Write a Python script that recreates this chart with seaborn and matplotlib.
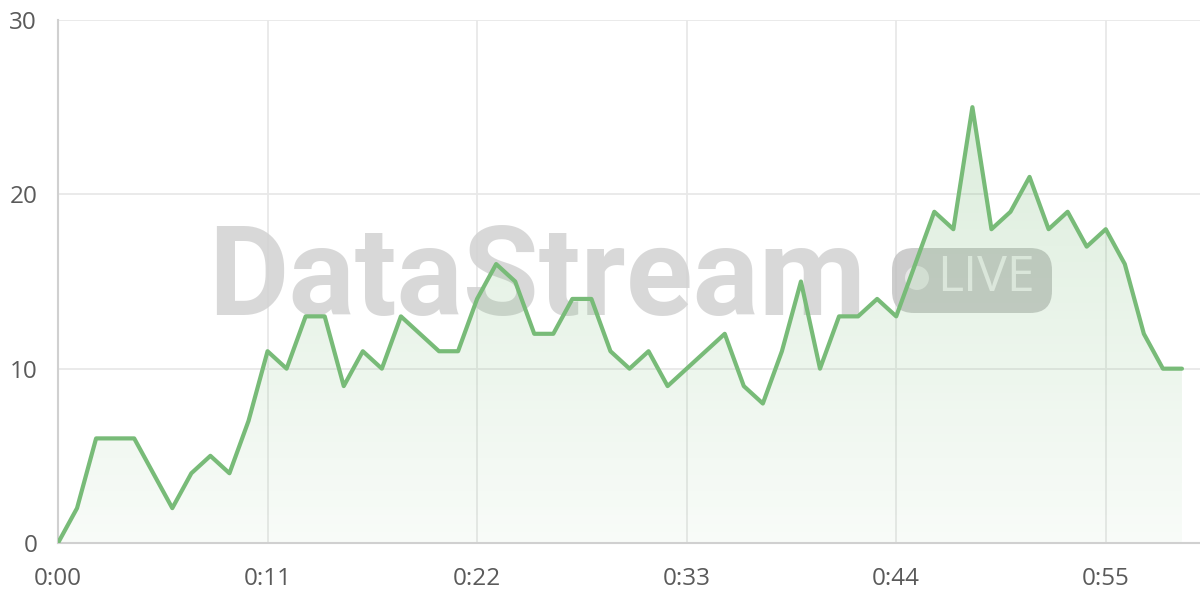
import numpy as np
import pandas as pd
import matplotlib.pyplot as plt
import seaborn as sns
from matplotlib.patches import FancyBboxPatch, Circle

# -----------------------------
# Data (one reading per second)
# -----------------------------
seconds = list(range(60))
values = [0, 2, 6, 6, 6, 4, 2, 4, 5, 4,
          7, 11, 10, 13, 13, 9, 11, 10, 13, 12,
          11, 11, 14, 16, 15, 12, 12, 14, 14, 11,
          10, 11, 9, 10, 11, 12, 9, 8, 11, 15,
          10, 13, 13, 14, 13, 16, 19, 18, 25, 18,
          19, 21, 18, 19, 17, 18, 16, 12, 10, 10]
x_ticks = [0, 11, 22, 33, 44, 55]
x_tick_labels = ["0:00", "0:11", "0:22", "0:33", "0:44", "0:55"]
y_ticks = [0, 10, 20, 30]

line_color = "#78bb78"
grid_color = "#e8e8e8"
label_color = "#5a5a5a"

sns.set_theme(style="white")
plt.rcParams["font.family"] = ["Open Sans", "DejaVu Sans"]

df = pd.DataFrame({"t": seconds, "v": values})

fig = plt.figure(figsize=(12, 6), dpi=100)
ax = fig.add_axes([58 / 1200, 57 / 600, 1143 / 1200, 523 / 600])

# gradient fill under the line
fill = ax.fill_between(df["t"], df["v"], 0, color="none", lw=0)
alpha = np.linspace(0.30, 0.05, 256)
grad = np.zeros((256, 1, 4))
grad[:, 0, :3] = (0.47, 0.73, 0.47)
grad[:, 0, 3] = alpha
img = ax.imshow(grad, extent=[0, 59, 0, 30], aspect="auto", zorder=2,
                interpolation="bilinear")
img.set_clip_path(fill.get_paths()[0], transform=ax.transData)

sns.lineplot(data=df, x="t", y="v", color=line_color, lw=3, ax=ax, zorder=4)

# watermark
wm = fig.dpi_scale_trans
ax.text(2.08, 2.85, "DataStream", transform=wm, fontsize=89, fontweight="bold",
        family=["Roboto", "DejaVu Sans"],
        color="#d2d2d2", alpha=0.85, ha="left", va="baseline", zorder=1.5)
badge = FancyBboxPatch((9.12, 3.07), 1.20, 0.25, transform=wm,
                       boxstyle="round,pad=0.2,rounding_size=0.22",
                       fc="#bdbdbd", ec="none", alpha=0.75, zorder=1.6)
ax.add_patch(badge)
ax.add_patch(Circle((9.17, 3.22), 0.12, transform=wm, fc="#e6e6e6",
                    ec="none", zorder=1.7))
ax.text(9.37, 3.22, "LIVE", transform=wm, fontsize=36, color="#f0f0f0",
        ha="left", va="center", zorder=1.7)

ax.set_xlim(0, 60)
ax.set_ylim(0, 30)
ax.set_xticks(x_ticks)
ax.set_xticklabels(x_tick_labels)
ax.set_yticks(y_ticks)
ax.set_xlabel("")
ax.set_ylabel("")
ax.grid(True, color=grid_color, lw=1.3, zorder=0)
ax.set_axisbelow(True)
ax.tick_params(axis="both", length=11, width=1.3, color=grid_color,
               labelcolor=label_color, labelsize=17.5, pad=6)
ax.tick_params(axis="y", pad=4)

sns.despine(ax=ax, top=True, right=True)
for side in ["left", "bottom"]:
    ax.spines[side].set_color("#d0d0d0")
    ax.spines[side].set_linewidth(1.5)

fig.savefig("out.png", dpi=100)
